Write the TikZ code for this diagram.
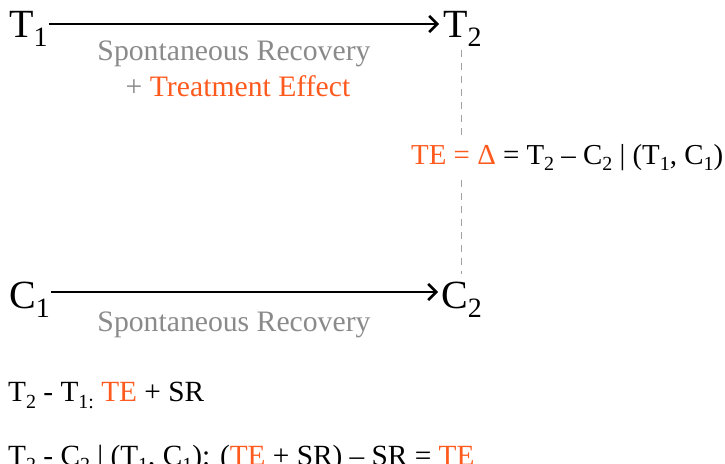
\documentclass[tikz,border=0pt]{standalone}
\usepackage{fontspec}
\setmainfont{Liberation Serif}
\usetikzlibrary{arrows.meta}
\definecolor{tecol}{HTML}{FF5A1E}
\definecolor{srcol}{HTML}{8A8A8A}
\newcommand{\bigsub}[1]{\raisebox{-9pt}{\fontsize{28}{28}\selectfont #1}}
\newcommand{\msub}[1]{\raisebox{-6pt}{\fontsize{20}{20}\selectfont #1}}
\begin{document}
\begin{tikzpicture}[x=1pt,y=1pt,
  big/.style={inner sep=0pt,anchor=base west,font=\fontsize{40}{40}\selectfont},
  srtext/.style={inner sep=0pt,anchor=base,text=srcol,font=\fontsize{29.7}{36}\selectfont},
  eqtext/.style={inner sep=0pt,anchor=base west,font=\fontsize{29.3}{30}\selectfont},
  eqbig/.style={eqtext,font=\fontsize{28.9}{30}\selectfont},
  arr/.style={line width=2.6pt,-{Straight Barb[length=8pt,width=16pt,line width=2.6pt]}}]
\useasboundingbox (0,0) rectangle (725,463);
% top row
\node[big] (t1) at (9,463-38) {T\bigsub{1}};
\node[big] (t2) at (443,463-38) {T\bigsub{2}};
\draw[arr] ([xshift=1pt]t1.east |- 0,463-24) coordinate (a1) -- ([xshift=-4pt]t2.west |- a1);
\node[srtext] (sr1) at (234,463-61) {Spontaneous Recovery};
\node[srtext] (te1) at (238,463-97) {+ \textcolor{tecol}{Treatment Effect}};
% bottom row
\node[big] (c1) at (9,463-309) {C\bigsub{1}};
\node[big] (c2) at (441,463-309) {C\bigsub{2}};
\draw[arr] ([xshift=1pt]c1.east |- 0,463-292) coordinate (a2) -- ([xshift=-3pt]c2.west |- a2);
\node[srtext] (sr2) at (234,463-332) {Spontaneous Recovery};
% dashed connector
\coordinate (d1) at (461,463-50);
\coordinate (d2) at (461,463-274);
\draw[srcol!80,line width=1pt,dash pattern=on 7pt off 6pt] (d1) -- (d2);
\node[eqbig,fill=white,inner ysep=6pt,inner xsep=0pt] (eq) at (411,463-165) {\textcolor{tecol}{TE = Δ} = T\msub{2} – C\msub{2} | (T\msub{1}, C\msub{1})};
% bottom formulas
\node[eqtext] (f1) at (8,463-402) {T\msub{2} - T\msub{1:} \textcolor{tecol}{TE} + SR};
\node[eqtext] (f2) at (8,463-465) {T\msub{2} - C\msub{2} | (T\msub{1}, C\msub{1}): (\textcolor{tecol}{TE} + SR) – SR = \textcolor{tecol}{TE}};
\end{tikzpicture}
\end{document}
